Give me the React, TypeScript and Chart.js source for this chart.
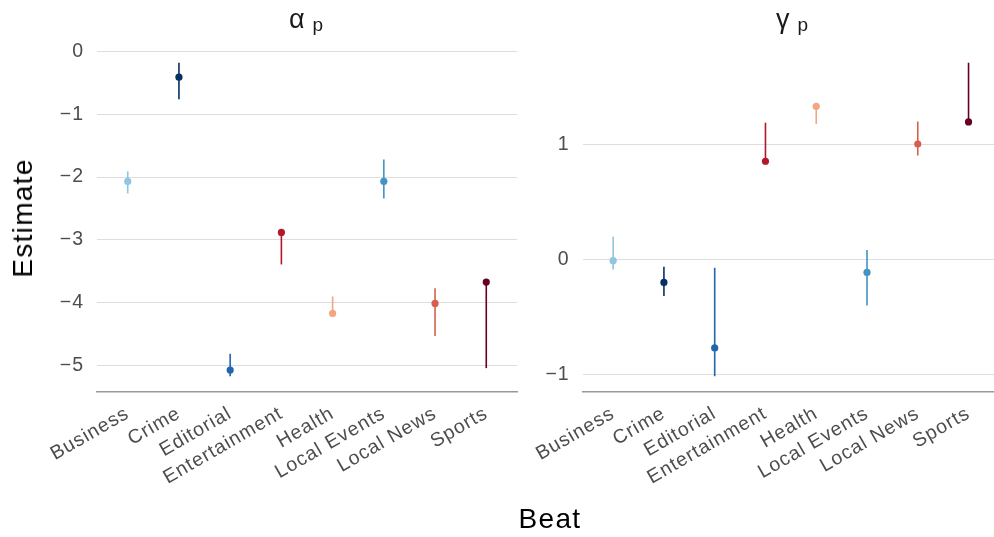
import React, { useEffect, useRef } from "react";
import { Chart, registerables } from "chart.js";

Chart.register(...registerables);

const beats = ["Business", "Crime", "Editorial", "Entertainment", "Health", "Local Events", "Local News", "Sports"];
const beatColors = ["#92C5DE", "#053061", "#2166AC", "#B2182B", "#F4A582", "#4393C3", "#D6604D", "#67001F"];

const alphaEst = [-2.07, -0.41, -5.07, -2.88, -4.17, -2.07, -4.01, -3.67];
const alphaLow = [-2.26, -0.76, -5.17, -3.39, -4.19, -2.34, -4.53, -5.04];
const alphaHigh = [-1.91, -0.18, -4.81, -2.86, -3.90, -1.72, -3.77, -3.66];

const gammaEst = [-0.01, -0.2, -0.77, 0.855, 1.333, -0.113, 1.005, 1.197];
const gammaLow = [-0.087, -0.317, -1.017, 0.83, 1.18, -0.4, 0.904, 1.19];
const gammaHigh = [0.197, -0.064, -0.073, 1.19, 1.34, 0.083, 1.2, 1.713];

const alphaTicks = [0, -1, -2, -3, -4, -5];
const gammaTicks = [-1, 0, 1];

const FONT = '"Liberation Sans", Arial, Helvetica, sans-serif';
const TICK_COLOR = "#4D4D4D";

function fmt(v: number) {
  return v < 0 ? "\u2212" + Math.abs(v) : String(v);
}

const spacingPlugin = {
  id: "letterSpacing",
  beforeLayout(chart: any) {
    chart.ctx.letterSpacing = "1px";
  },
  beforeDraw(chart: any) {
    chart.ctx.letterSpacing = "1px";
  },
};

type PanelProps = {
  est: number[];
  low: number[];
  high: number[];
  ticks: number[];
  left: number;
  width: number;
  axisWidth: number;
  padRight: number;
};

function Panel({ est, low, high, ticks, left, width, axisWidth, padRight }: PanelProps) {
  const ref = useRef<HTMLCanvasElement>(null);
  useEffect(() => {
    if (!ref.current) return;
    const lo = Math.min(...low);
    const hi = Math.max(...high);
    const ex = (hi - lo) * 0.05;
    const datasets: any[] = beats.map((_, i) => ({
      data: [
        { x: i, y: low[i] },
        { x: i, y: high[i] },
      ],
      showLine: true,
      borderColor: beatColors[i],
      borderWidth: 1.6,
      pointRadius: 0,
      pointHoverRadius: 0,
      order: 2,
    }));
    datasets.push({
      data: est.map((v, i) => ({ x: i, y: v })),
      showLine: false,
      backgroundColor: beatColors,
      borderColor: beatColors,
      borderWidth: 0,
      pointRadius: 3.6,
      order: 1,
    });
    const chart = new Chart(ref.current, {
      type: "scatter",
      data: { datasets },
      plugins: [spacingPlugin],
      options: {
        animation: false,
        responsive: false,
        devicePixelRatio: 1,
        layout: { padding: { top: 47, right: padRight, left: 0, bottom: 0 } },
        plugins: { legend: { display: false }, tooltip: { enabled: false } },
        scales: {
          x: {
            type: "linear",
            min: -0.6,
            max: 7.6,
            afterBuildTicks: (s: any) => {
              s.ticks = beats.map((_, i) => ({ value: i }));
            },
            afterFit: (s: any) => {
              s.height = 145;
              s.paddingLeft = 0;
              s.paddingRight = 0;
              s.paddingTop = 0;
              s.paddingBottom = 0;
            },
            ticks: {
              autoSkip: false,
              maxRotation: 30,
              minRotation: 30,
              padding: 10,
              color: TICK_COLOR,
              font: { family: FONT, size: 19.5 },
              callback: (v: any) => beats[v as number],
            },
            grid: { display: false, drawTicks: false },
            border: { display: true, color: "#999999", width: 1.5 },
          },
          y: {
            type: "linear",
            min: lo - ex,
            max: hi + ex,
            afterBuildTicks: (s: any) => {
              s.ticks = ticks.map((v) => ({ value: v }));
            },
            afterFit: (s: any) => {
              s.width = axisWidth;
              s.paddingTop = 0;
              s.paddingBottom = 0;
            },
            ticks: {
              padding: 13,
              color: TICK_COLOR,
              font: { family: FONT, size: 19.5 },
              callback: (v: any) => fmt(v as number),
            },
            grid: { color: "#DEDEDE", lineWidth: 1, drawTicks: false },
            border: { display: false },
          },
        },
      },
    });
    return () => chart.destroy();
  }, []);
  return (
    <canvas
      ref={ref}
      width={width}
      height={537}
      style={{ position: "absolute", left, top: 0, width, height: 537 }}
    />
  );
}

function Title({ sym, cx }: { sym: string; cx: number }) {
  return (
    <div
      style={{
        position: "absolute",
        left: cx,
        top: 4,
        transform: "translateX(-50%)",
        fontFamily: FONT,
        color: "#1A1A1A",
        whiteSpace: "nowrap",
        lineHeight: "30px",
      }}
    >
      <span style={{ fontSize: 27 }}>{sym}</span>
      <span style={{ fontSize: 19, position: "relative", top: 3, marginLeft: 8 }}>p</span>
    </div>
  );
}

const axisTitle: React.CSSProperties = {
  position: "absolute",
  fontFamily: FONT,
  fontSize: 28,
  letterSpacing: "1.3px",
  color: "#000000",
  whiteSpace: "nowrap",
  lineHeight: "32px",
};

export default function App() {
  return (
    <div
      style={{
        position: "fixed",
        left: 0,
        top: 0,
        width: 994,
        height: 537,
        overflow: "hidden",
        background: "#FFFFFF",
      }}
    >
      <Panel est={alphaEst} low={alphaLow} high={alphaHigh} ticks={alphaTicks} left={0} width={530} axisWidth={97} padRight={13} />
      <Panel est={gammaEst} low={gammaLow} high={gammaHigh} ticks={gammaTicks} left={530} width={473} axisWidth={52.7} padRight={0} />
      <Title sym={"\u03B1"} cx={306} />
      <Title sym={"\u03B3"} cx={792} />
      <div style={{ ...axisTitle, left: 23, top: 218, transform: "translate(-50%, -50%) rotate(-90deg)" }}>Estimate</div>
      <div style={{ ...axisTitle, left: 550, top: 519, transform: "translate(-50%, -50%)" }}>Beat</div>
    </div>
  );
}
